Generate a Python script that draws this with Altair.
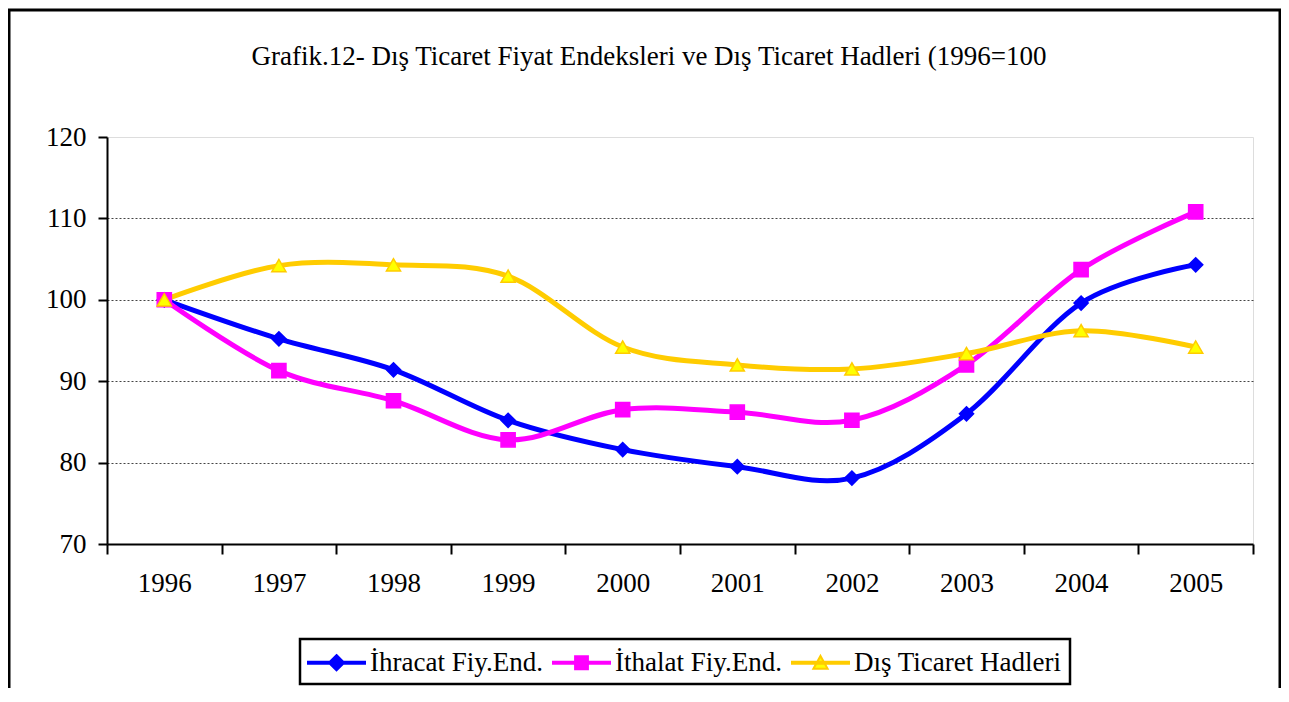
import altair as alt
import pandas as pd

years = ["1996", "1997", "1998", "1999", "2000", "2001", "2002", "2003", "2004", "2005"]
series_names = ["İhracat Fiy.End.", "İthalat Fiy.End.", "Dış Ticaret Hadleri"]
ihracat = [100.0, 95.2, 91.4, 85.2, 81.6, 79.5, 78.1, 86.0, 99.6, 104.3]
ithalat = [100.0, 91.3, 87.6, 82.8, 86.5, 86.2, 85.2, 92.0, 103.7, 110.8]
hadleri = [100.0, 104.2, 104.3, 102.9, 94.2, 92.0, 91.5, 93.4, 96.2, 94.2]

line_colors = ["#0000FF", "#FF00FF", "#FFCC00"]
fill_colors = ["#0000FF", "#FF00FF", "#FFFF00"]
shapes = ["diamond", "square", "triangle-up"]

FONT = "Liberation Serif, Times New Roman, serif"

rows = []
for name, vals in zip(series_names, [ihracat, ithalat, hadleri]):
    for y, v in zip(years, vals):
        rows.append({"Yil": y, "Seri": name, "Deger": v})
df = pd.DataFrame(rows)

x_enc = alt.X(
    "Yil:N",
    sort=years,
    bandPosition=0.5,
    scale=alt.Scale(type="band", paddingInner=0, paddingOuter=0),
    axis=alt.Axis(
        title=None, labelAngle=0, tickBand="extent", labelFont=FONT,
        labelFontSize=27, labelColor="black", labelPadding=16, tickSize=10,
        tickWidth=2, tickColor="black", domainColor="black", domainWidth=2,
        grid=False,
    ),
)
y_enc = alt.Y(
    "Deger:Q",
    scale=alt.Scale(domain=[70, 120], nice=False, zero=False),
    axis=alt.Axis(
        title=None, values=[70, 80, 90, 100, 110, 120], labelFont=FONT,
        labelFontSize=27, labelColor="black", labelPadding=12, tickSize=9,
        tickWidth=2, tickColor="black", domainColor="black", domainWidth=2,
        grid=True, gridColor="#444444", gridDash=[2, 2], gridWidth=1,
        gridOpacity={"condition": {"test": "datum.value >= 120 || datum.value <= 70", "value": 0}, "value": 1},
    ),
)

# legend symbols: line segment plus marker (unit coords scaled by sqrt(size)/2)
bar = "M-2,-0.07H2V0.07H-2Z"
p_diamond = bar + " M0,-0.54L0.54,0L0,0.54L-0.54,0Z"
p_square = bar + " M-0.45,-0.45H0.45V0.45H-0.45Z"
p_tri = bar + " M0,-0.48L0.5,0.42H-0.5Z"
legend_shapes = [p_diamond, p_square, p_tri]

base = alt.Chart(df)

lines = base.mark_line(interpolate="cardinal", strokeWidth=5).encode(
    x=x_enc,
    y=y_enc,
    color=alt.Color("Seri:N", sort=series_names,
                    scale=alt.Scale(domain=series_names, range=line_colors), legend=None),
)

points = base.mark_point(filled=True, size=200, opacity=1).encode(
    x=x_enc,
    y=y_enc,
    shape=alt.Shape("Seri:N", sort=series_names,
                    scale=alt.Scale(domain=series_names, range=shapes), legend=None),
    fill=alt.Fill("Seri:N", sort=series_names,
                  scale=alt.Scale(domain=series_names, range=fill_colors), legend=None),
    stroke=alt.Stroke("Seri:N", sort=series_names,
                      scale=alt.Scale(domain=series_names, range=line_colors), legend=None),
    strokeWidth=alt.value(1.5),
)

legend = alt.Legend(
    title=None, orient="none", legendX=193, legendY=502, direction="horizontal",
    columns=3, labelFont=FONT, labelFontSize=27, labelColor="black",
    labelOffset=18, symbolOffset=13, symbolSize=812, symbolStrokeWidth=2,
    symbolOpacity=1, columnPadding=6, padding=8, strokeColor="black",
    fillColor="white", labelLimit=400,
)

legend_layer = base.mark_point(filled=True, size=812, opacity=0, strokeWidth=2).encode(
    x=x_enc,
    y=y_enc,
    shape=alt.Shape("Seri:N", sort=series_names,
                    scale=alt.Scale(domain=series_names, range=legend_shapes), legend=legend),
    fill=alt.Fill("Seri:N", sort=series_names,
                  scale=alt.Scale(domain=series_names, range=fill_colors), legend=legend),
    stroke=alt.Stroke("Seri:N", sort=series_names,
                      scale=alt.Scale(domain=series_names, range=line_colors), legend=legend),
)

border = alt.Chart(pd.DataFrame({"k": [0]})).mark_rect(
    fill=None, stroke="black", strokeWidth=3
).encode(
    x=alt.value(-98), x2=alt.value(1173), y=alt.value(-127), y2=alt.value(640)
)

chart = alt.layer(border, lines, points, legend_layer).resolve_scale(
    shape="independent", fill="independent", stroke="independent"
).properties(
    width=1146,
    height=407,
    autosize=alt.AutoSizeParams(type="none"),
    padding={"left": 99, "top": 129, "right": 28, "bottom": 144},
    title=alt.Title(
        "Grafik.12- Dış Ticaret Fiyat Endeksleri ve Dış Ticaret Hadleri (1996=100",
        font=FONT, fontSize=27, fontWeight="normal", color="black",
        anchor="middle", frame="group", dx=-31, offset=-62,
    ),
).configure_view(stroke=None).configure(background="white").configure_legend(strokeWidth=2.5)

chart.save("out.html", embed_options={"renderer": "svg", "actions": False})
